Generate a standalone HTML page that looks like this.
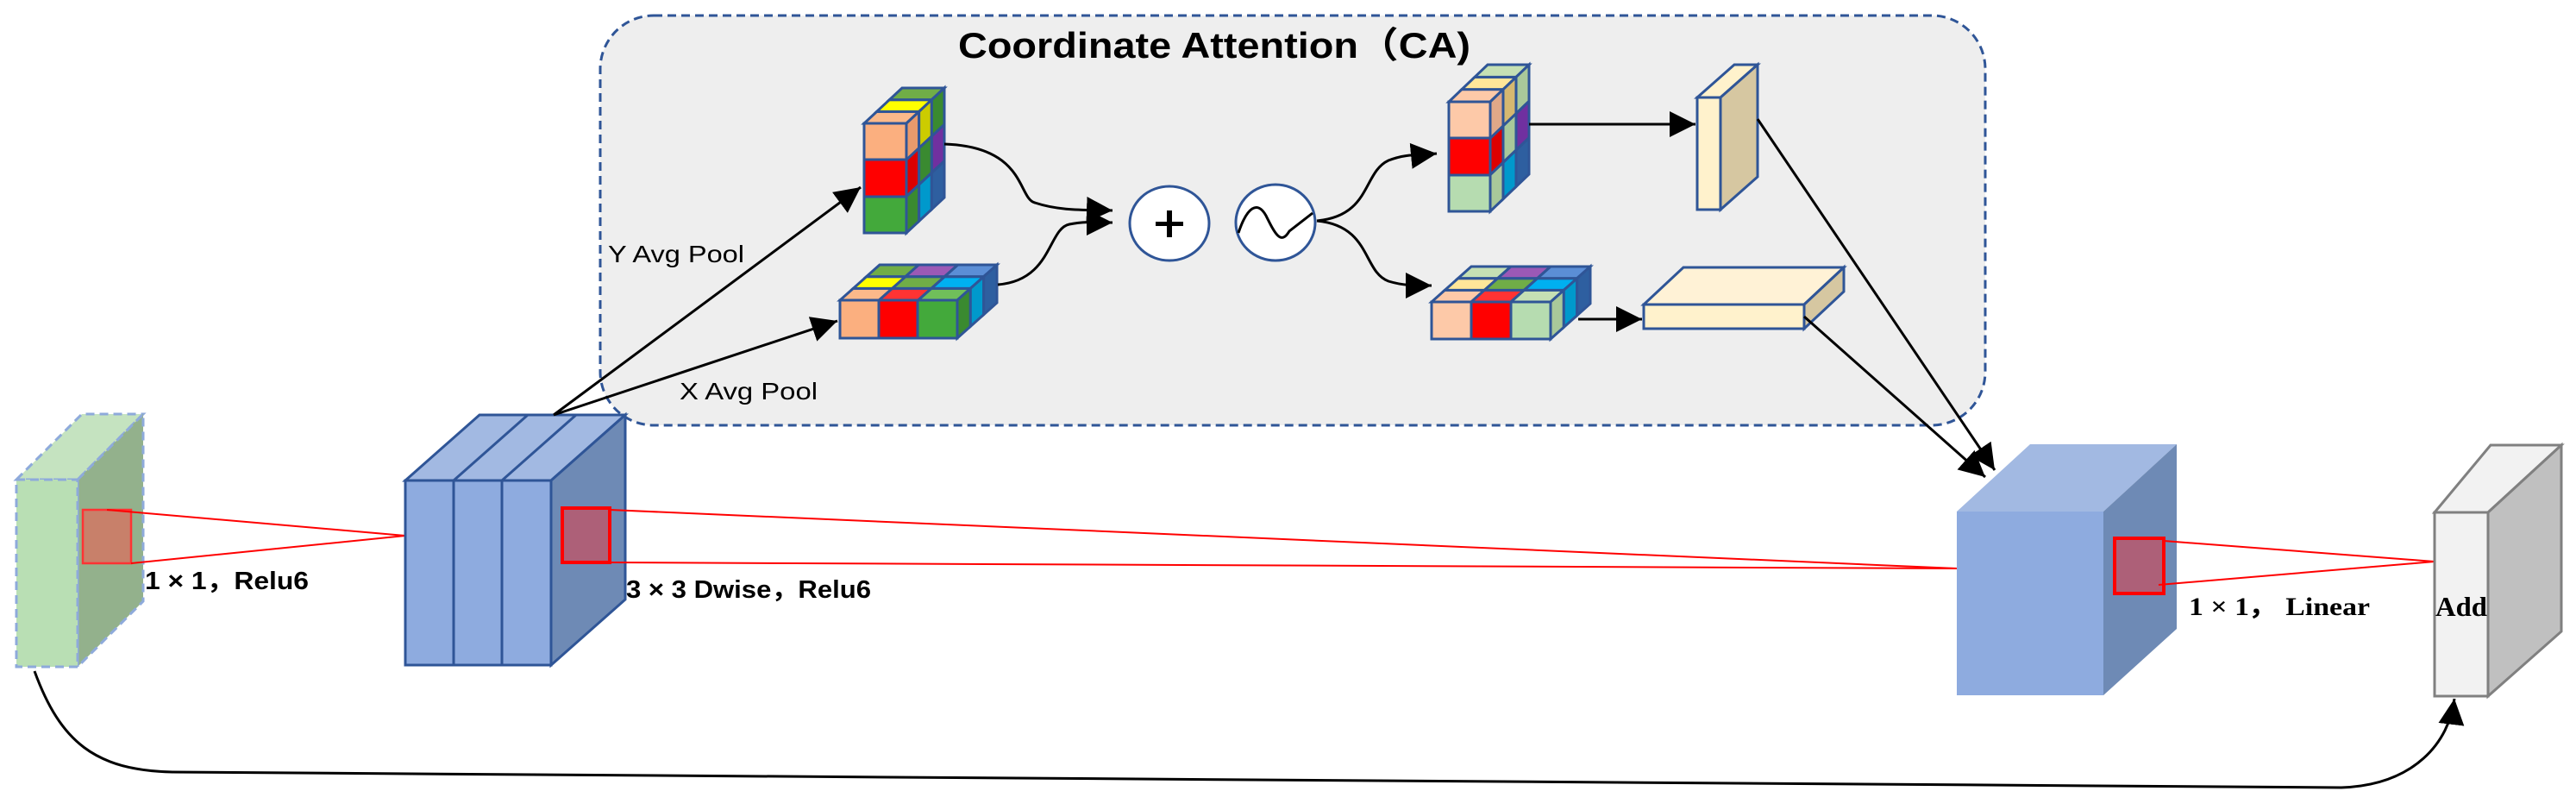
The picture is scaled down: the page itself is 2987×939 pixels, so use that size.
<!DOCTYPE html>
<html><head><meta charset="utf-8"><style>
html,body{margin:0;padding:0;background:#fff;}
svg{display:block;}
text{font-family:"Liberation Sans","Noto Sans CJK SC",sans-serif;}
</style></head><body>
<svg width="2987" height="939" viewBox="0 0 2987 939" xmlns="http://www.w3.org/2000/svg">
<defs>
<marker id="a" viewBox="0 0 10 10" refX="10" refY="5" markerWidth="10" markerHeight="10" orient="auto-start-reverse"><path d="M0,0 L10,5 L0,10 z" fill="#000"/></marker>
<style>
.c rect{stroke:#2f5597;stroke-width:3;vector-effect:non-scaling-stroke;}
.b{stroke:#2f5597;stroke-width:3;}
</style>
</defs>

<!-- CA box -->
<rect x="696" y="18" width="1606" height="475" rx="62" fill="#eeeeee" stroke="#2f5597" stroke-width="3" stroke-dasharray="10,6"/>
<text x="1111" y="67" font-size="42" font-weight="bold" textLength="594" lengthAdjust="spacingAndGlyphs">Coordinate Attention（CA)</text>

<!-- Green input slab -->
<polygon points="19,556 95,480 166,480 90,556" fill="#c5e3c0" stroke="#8eaadb" stroke-width="3" stroke-dasharray="10,6"/>
<polygon points="90,556 166,480 166,697 90,773" fill="#93b18c" stroke="#8eaadb" stroke-width="3" stroke-dasharray="10,6"/>
<rect x="19" y="556" width="71" height="217" fill="#b9dfb4" stroke="#8eaadb" stroke-width="3" stroke-dasharray="10,6"/>
<rect x="96" y="591" width="56" height="62" fill="#c8806a" stroke="#ff3333" stroke-width="2.5"/>
<line x1="124" y1="591" x2="470" y2="621" stroke="#ff0000" stroke-width="2"/>
<line x1="152" y1="653" x2="470" y2="621" stroke="#ff0000" stroke-width="2"/>
<text x="168" y="683" font-size="29" font-weight="bold" textLength="190" lengthAdjust="spacingAndGlyphs">1 × 1，Relu6</text>

<!-- Blue dwise block -->
<polygon points="470,557 556,481 725,481 639,557" fill="#a2b9e2" class="b"/>
<line x1="526" y1="557" x2="612" y2="481" class="b"/>
<line x1="582" y1="557" x2="668" y2="481" class="b"/>
<polygon points="639,557 725,481 725,695 639,771" fill="#6e8ab5" class="b"/>
<rect x="470" y="557" width="56" height="214" fill="#8eabdf" class="b"/>
<rect x="526" y="557" width="56" height="214" fill="#8eabdf" class="b"/>
<rect x="582" y="557" width="57" height="214" fill="#8eabdf" class="b"/>
<rect x="652" y="589" width="55" height="63" fill="#ad6078" stroke="#ff0000" stroke-width="4"/>
<line x1="707" y1="591" x2="2269" y2="659" stroke="#ff0000" stroke-width="2"/>
<line x1="707" y1="652" x2="2269" y2="659" stroke="#ff0000" stroke-width="2"/>
<text x="726" y="693" font-size="29" font-weight="bold" textLength="284" lengthAdjust="spacingAndGlyphs">3 × 3 Dwise，Relu6</text>

<!-- Arrows to pooled cubes -->
<line x1="642" y1="481" x2="998" y2="217" stroke="#000" stroke-width="3" marker-end="url(#a)"/>
<line x1="642" y1="481" x2="971" y2="372" stroke="#000" stroke-width="3" marker-end="url(#a)"/>
<text x="705" y="304" font-size="28" textLength="158" lengthAdjust="spacingAndGlyphs">Y Avg Pool</text>
<text x="788" y="463" font-size="28" textLength="160" lengthAdjust="spacingAndGlyphs">X Avg Pool</text>

<!-- Y cube -->
<g class="c">
 <g transform="matrix(49,0,44,-41,1002,143)">
  <rect x="0" y="0" width="1" height="0.333" fill="#fbb98a"/>
  <rect x="0" y="0.333" width="1" height="0.333" fill="#ffff00"/>
  <rect x="0" y="0.667" width="1" height="0.333" fill="#70ad47"/>
 </g>
 <g transform="matrix(44,-41,0,127,1051,143)">
  <rect x="0" y="0" width="0.333" height="0.333" fill="#e89a6c"/>
  <rect x="0.333" y="0" width="0.333" height="0.333" fill="#cccc00"/>
  <rect x="0.667" y="0" width="0.333" height="0.333" fill="#3a8a30"/>
  <rect x="0" y="0.333" width="0.333" height="0.333" fill="#dd0000"/>
  <rect x="0.333" y="0.333" width="0.333" height="0.333" fill="#3a8a30"/>
  <rect x="0.667" y="0.333" width="0.333" height="0.333" fill="#7030a0"/>
  <rect x="0" y="0.667" width="0.333" height="0.333" fill="#3a8a30"/>
  <rect x="0.333" y="0.667" width="0.333" height="0.333" fill="#0099cc"/>
  <rect x="0.667" y="0.667" width="0.333" height="0.333" fill="#2e5fa0"/>
 </g>
 <rect x="1002" y="143" width="49" height="42" fill="#fbaf7f"/>
 <rect x="1002" y="185" width="49" height="43" fill="#ff0000"/>
 <rect x="1002" y="228" width="49" height="42" fill="#43a93b"/>
</g>

<!-- X cube -->
<g class="c">
 <g transform="matrix(136,0,46,-41,974,348)">
  <rect x="0" y="0" width="0.333" height="0.333" fill="#fbb98a"/>
  <rect x="0.333" y="0" width="0.333" height="0.333" fill="#ff3333"/>
  <rect x="0.667" y="0" width="0.333" height="0.333" fill="#70bf5a"/>
  <rect x="0" y="0.333" width="0.333" height="0.333" fill="#ffff00"/>
  <rect x="0.333" y="0.333" width="0.333" height="0.333" fill="#70ad47"/>
  <rect x="0.667" y="0.333" width="0.333" height="0.333" fill="#00b0f0"/>
  <rect x="0" y="0.667" width="0.333" height="0.333" fill="#70ad47"/>
  <rect x="0.333" y="0.667" width="0.333" height="0.333" fill="#9b59b6"/>
  <rect x="0.667" y="0.667" width="0.333" height="0.333" fill="#5b8ed6"/>
 </g>
 <g transform="matrix(46,-41,0,44,1110,348)">
  <rect x="0" y="0" width="0.333" height="1" fill="#3a8a30"/>
  <rect x="0.333" y="0" width="0.333" height="1" fill="#0099cc"/>
  <rect x="0.667" y="0" width="0.333" height="1" fill="#2e5fa0"/>
 </g>
 <rect x="974" y="348" width="45" height="44" fill="#fbaf7f"/>
 <rect x="1019" y="348" width="45" height="44" fill="#ff0000"/>
 <rect x="1064" y="348" width="46" height="44" fill="#43a93b"/>
</g>

<!-- curves into plus -->
<path d="M1095,167 C1190,170 1180,230 1200,235 C1230,245 1260,243 1290,244" fill="none" stroke="#000" stroke-width="3" marker-end="url(#a)"/>
<path d="M1157,330 C1220,325 1215,265 1240,260 C1260,256 1275,258 1290,258" fill="none" stroke="#000" stroke-width="3" marker-end="url(#a)"/>

<ellipse cx="1356" cy="259" rx="46" ry="43" fill="#fff" stroke="#2f5597" stroke-width="3"/>
<rect x="1340" y="257" width="32" height="5" fill="#000"/>
<rect x="1353" y="244" width="6" height="31" fill="#000"/>
<ellipse cx="1479" cy="258" rx="46" ry="44" fill="#fff" stroke="#2f5597" stroke-width="3"/>
<path d="M1436,270 C1446,240 1458,232 1468,250 C1478,270 1485,285 1495,268 L1522,247" fill="none" stroke="#000" stroke-width="3"/>

<path d="M1527,256 C1590,250 1580,200 1610,186 C1630,178 1645,180 1666,178" fill="none" stroke="#000" stroke-width="3" marker-end="url(#a)"/>
<path d="M1527,256 C1590,262 1580,315 1610,326 C1630,332 1645,331 1660,331" fill="none" stroke="#000" stroke-width="3" marker-end="url(#a)"/>

<!-- upper right cube -->
<g class="c">
 <g transform="matrix(48,0,45,-43,1680,118)">
  <rect x="0" y="0" width="1" height="0.333" fill="#fdc9a8"/>
  <rect x="0" y="0.333" width="1" height="0.333" fill="#ffe699"/>
  <rect x="0" y="0.667" width="1" height="0.333" fill="#c5e0b4"/>
 </g>
 <g transform="matrix(45,-43,0,127,1728,118)">
  <rect x="0" y="0" width="0.333" height="0.333" fill="#e0a888"/>
  <rect x="0.333" y="0" width="0.333" height="0.333" fill="#d6b870"/>
  <rect x="0.667" y="0" width="0.333" height="0.333" fill="#a9c89a"/>
  <rect x="0" y="0.333" width="0.333" height="0.333" fill="#dd0000"/>
  <rect x="0.333" y="0.333" width="0.333" height="0.333" fill="#a9c89a"/>
  <rect x="0.667" y="0.333" width="0.333" height="0.333" fill="#7030a0"/>
  <rect x="0" y="0.667" width="0.333" height="0.333" fill="#a9c89a"/>
  <rect x="0.333" y="0.667" width="0.333" height="0.333" fill="#0099cc"/>
  <rect x="0.667" y="0.667" width="0.333" height="0.333" fill="#2e5fa0"/>
 </g>
 <rect x="1680" y="118" width="48" height="42" fill="#fdc9a8"/>
 <rect x="1680" y="160" width="48" height="43" fill="#ff0000"/>
 <rect x="1680" y="203" width="48" height="42" fill="#b6dcb0"/>
</g>

<!-- lower right cube -->
<g class="c">
 <g transform="matrix(138,0,46,-41,1660,350)">
  <rect x="0" y="0" width="0.333" height="0.333" fill="#fdc9a8"/>
  <rect x="0.333" y="0" width="0.333" height="0.333" fill="#ff3333"/>
  <rect x="0.667" y="0" width="0.333" height="0.333" fill="#c5e0b4"/>
  <rect x="0" y="0.333" width="0.333" height="0.333" fill="#ffe699"/>
  <rect x="0.333" y="0.333" width="0.333" height="0.333" fill="#70ad47"/>
  <rect x="0.667" y="0.333" width="0.333" height="0.333" fill="#00b0f0"/>
  <rect x="0" y="0.667" width="0.333" height="0.333" fill="#c5e0b4"/>
  <rect x="0.333" y="0.667" width="0.333" height="0.333" fill="#9b59b6"/>
  <rect x="0.667" y="0.667" width="0.333" height="0.333" fill="#5b8ed6"/>
 </g>
 <g transform="matrix(46,-41,0,43,1798,350)">
  <rect x="0" y="0" width="0.333" height="1" fill="#a9c89a"/>
  <rect x="0.333" y="0" width="0.333" height="1" fill="#0099cc"/>
  <rect x="0.667" y="0" width="0.333" height="1" fill="#2e5fa0"/>
 </g>
 <rect x="1660" y="350" width="46" height="43" fill="#fdc9a8"/>
 <rect x="1706" y="350" width="46" height="43" fill="#ff0000"/>
 <rect x="1752" y="350" width="46" height="43" fill="#b6dcb0"/>
</g>

<!-- arrows to slabs -->
<line x1="1773" y1="144" x2="1966" y2="144" stroke="#000" stroke-width="3" marker-end="url(#a)"/>
<line x1="1830" y1="370" x2="1904" y2="370" stroke="#000" stroke-width="3" marker-end="url(#a)"/>

<!-- tall slab -->
<polygon points="1968,113 2011,75 2038,75 1995,113" fill="#fff2cc" class="b"/>
<polygon points="1995,113 2038,75 2038,205 1995,243" fill="#d6c7a1" class="b"/>
<rect x="1968" y="113" width="27" height="130" fill="#fff2cc" class="b"/>

<!-- flat slab -->
<polygon points="1906,353 1952,310 2138,310 2092,353" fill="#fff2d6" class="b"/>
<polygon points="2092,353 2138,310 2138,338 2092,381" fill="#d6c7a1" class="b"/>
<rect x="1906" y="353" width="186" height="28" fill="#fff2cc" class="b"/>

<line x1="2038" y1="138" x2="2313" y2="545" stroke="#000" stroke-width="3" marker-end="url(#a)"/>
<line x1="2092" y1="367" x2="2302" y2="553" stroke="#000" stroke-width="3" marker-end="url(#a)"/>

<!-- big block -->
<polygon points="2269,593 2354,515 2524,515 2439,593" fill="#a2b9e2"/>
<polygon points="2439,593 2524,515 2524,729 2439,806" fill="#6e8ab5"/>
<rect x="2269" y="593" width="170" height="213" fill="#8eabdf"/>
<rect x="2452" y="624" width="57" height="64" fill="#ad6078" stroke="#ff0000" stroke-width="4"/>
<line x1="2509" y1="627" x2="2823" y2="651" stroke="#ff0000" stroke-width="2"/>
<line x1="2503" y1="678" x2="2823" y2="651" stroke="#ff0000" stroke-width="2"/>
<text x="2538" y="713" font-size="30" font-weight="bold" style="font-family:'Liberation Serif',serif" textLength="210" lengthAdjust="spacingAndGlyphs">1 × 1， Linear</text>

<!-- Add slab -->
<polygon points="2823,594 2888,516 2970,516 2885,594" fill="#f2f2f2" stroke="#808080" stroke-width="3"/>
<polygon points="2885,594 2970,516 2970,732 2885,807" fill="#c0c0c0" stroke="#808080" stroke-width="3"/>
<rect x="2823" y="594" width="62" height="213" fill="#f2f2f2" stroke="#808080" stroke-width="3"/>
<text x="2824" y="714" font-size="32" font-weight="bold" style="font-family:'Liberation Serif',serif" textLength="60" lengthAdjust="spacingAndGlyphs">Add</text>

<!-- skip connection -->
<path d="M40,778 C70,860 110,893 200,895 L2715,913 C2800,910 2840,860 2846,810" fill="none" stroke="#000" stroke-width="3" marker-end="url(#a)"/>
</svg>
</body></html>
